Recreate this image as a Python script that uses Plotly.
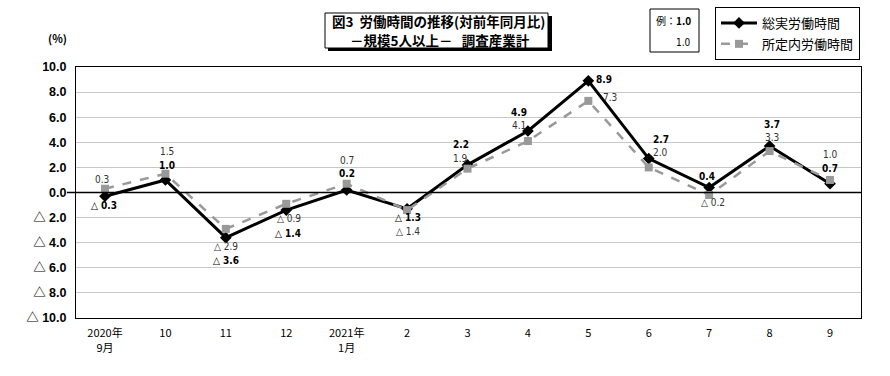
import plotly.graph_objects as go

categories = ["2020年<br>9月", "10", "11", "12", "2021年<br>1月", "2", "3", "4", "5", "6", "7", "8", "9"]
total_hours = [-0.3, 1.0, -3.6, -1.4, 0.2, -1.3, 2.2, 4.9, 8.9, 2.7, 0.4, 3.7, 0.7]
scheduled_hours = [0.3, 1.5, -2.9, -0.9, 0.7, -1.4, 1.9, 4.1, 7.3, 2.0, -0.2, 3.3, 1.0]
y_ticks = [10, 8, 6, 4, 2, 0, -2, -4, -6, -8, -10]

xpos = list(range(len(categories)))

# label offsets in pixels (xshift, yshift)
total_offsets = [(-1, -9), (2, 14), (0, -23), (2, -23), (0, 16), (1, -9), (-7, 20), (-9, 19),
                 (16, 1), (12, 19), (-2, 11), (2, 22), (0, 15)]
sched_offsets = [(-3, 9), (2, 22), (0, -18), (3, -15), (0, 23), (1, -21), (-7, 10), (-9, 16),
                 (22, 3), (12, 15), (4, -7), (2, 14), (0, 25)]

FONT = "Liberation Sans Narrow, DejaVu Sans Condensed, Noto Sans CJK JP"
JP = "Noto Sans CJK JP"
AX = "Liberation Sans, Arial, Noto Sans CJK JP"

def fmt(v):
    return ("△ " + f"{abs(v):.1f}") if v < 0 else f"{v:.1f}"

def px(xp):
    return (xp - 76) / 785

def py(yp):
    return (318 - yp) / 251

fig = go.Figure()
fig.add_trace(go.Scatter(
    x=xpos, y=total_hours, name="総実労働時間", mode="lines+markers", legendgroup="a",
    line=dict(color="black", width=3),
    marker=dict(symbol="diamond", size=9, color="black"),
))
fig.add_trace(go.Scatter(
    x=xpos, y=scheduled_hours, name="所定内労働時間", mode="lines+markers", legendgroup="b",
    line=dict(color="#999999", width=2.5, dash="dash"),
    marker=dict(symbol="square", size=8, color="#999999"),
))

anns = []
for c, v, (dx, dy) in zip(xpos, total_hours, total_offsets):
    anns.append(dict(x=c, y=v, xref="x", yref="y", text="<b>" + fmt(v) + "</b>", showarrow=False,
                     xshift=dx, yshift=dy, xanchor="center", yanchor="middle",
                     font=dict(family=FONT, size=10, color="black")))
for c, v, (dx, dy) in zip(xpos, scheduled_hours, sched_offsets):
    anns.append(dict(x=c, y=v, xref="x", yref="y", text=fmt(v), showarrow=False,
                     xshift=dx, yshift=dy, xanchor="center", yanchor="middle",
                     font=dict(family=FONT, size=10, color="#333333")))

# title box with shadow
fig.add_shape(type="rect", xref="paper", yref="paper", x0=px(328), x1=px(552),
              y0=py(51), y1=py(16), fillcolor="black", line=dict(width=0), layer="above")
fig.add_shape(type="rect", xref="paper", yref="paper", x0=px(325), x1=px(548),
              y0=py(48), y1=py(13), fillcolor="white", line=dict(color="black", width=1), layer="above")
anns.append(dict(xref="paper", yref="paper", x=px(438), y=py(21.5), xanchor="center", yanchor="middle",
                 text="<b>図3  労働時間の推移(対前年同月比)</b>",
                 showarrow=False, font=dict(family=JP, size=13.5, color="black")))
anns.append(dict(xref="paper", yref="paper", x=px(440), y=py(39.5), xanchor="center", yanchor="middle",
                 text="<b>－規模5人以上－   調査産業計</b>",
                 showarrow=False, font=dict(family=JP, size=13.5, color="black")))
# example box
fig.add_shape(type="rect", xref="paper", yref="paper", x0=px(650), x1=px(699),
              y0=py(52), y1=py(9), fillcolor="white", line=dict(color="black", width=1), layer="above")
anns.append(dict(xref="paper", yref="paper", x=px(693), y=py(21), xanchor="right", yanchor="middle",
                 text="例：<b>1.0</b>", showarrow=False, font=dict(family=JP, size=10, color="black")))
anns.append(dict(xref="paper", yref="paper", x=px(693), y=py(42), xanchor="right", yanchor="middle",
                 text="1.0", showarrow=False, font=dict(family=FONT, size=10, color="black")))
# (%) label
anns.append(dict(xref="paper", yref="paper", x=px(57), y=py(38), xanchor="center", yanchor="middle",
                 text="<b>(%)</b>", showarrow=False, font=dict(family=JP, size=11, color="black")))

# zero line
fig.add_shape(type="line", xref="paper", yref="y", x0=-9 / 785, x1=1, y0=0, y1=0,
              line=dict(color="black", width=1.5))

fig.update_layout(
    width=890, height=376,
    margin=dict(l=76, r=29, t=67, b=58, autoexpand=False),
    paper_bgcolor="white", plot_bgcolor="white",
    annotations=anns,
    showlegend=True,
    legend=dict(x=px(860), y=py(7), xanchor="right", yanchor="top",
                bordercolor="black", borderwidth=1, bgcolor="white",
                font=dict(family=JP, size=13, color="black"), tracegroupgap=1,
                itemwidth=36),
    font=dict(family=FONT, color="black"),
)
fig.update_xaxes(range=[-0.48, 12.513], tickvals=xpos, ticktext=categories, showgrid=False,
                 showline=True, mirror=True, zeroline=False, ticklabelstandoff=5,
                 linecolor="black", linewidth=1, ticks="", tickfont=dict(family=JP, size=11, color="black"))
fig.update_yaxes(range=[-10, 10], tickvals=y_ticks, ticktext=["<b>" + fmt(v) + "</b>" for v in y_ticks],
                 showgrid=True, gridcolor="#c8c8c8", gridwidth=1, zeroline=False, ticklabelstandoff=6,
                 showline=True, mirror=True, linecolor="black", linewidth=1, ticks="",
                 tickfont=dict(family=AX, size=12.5, color="black"))

fig.write_html("out.html")
